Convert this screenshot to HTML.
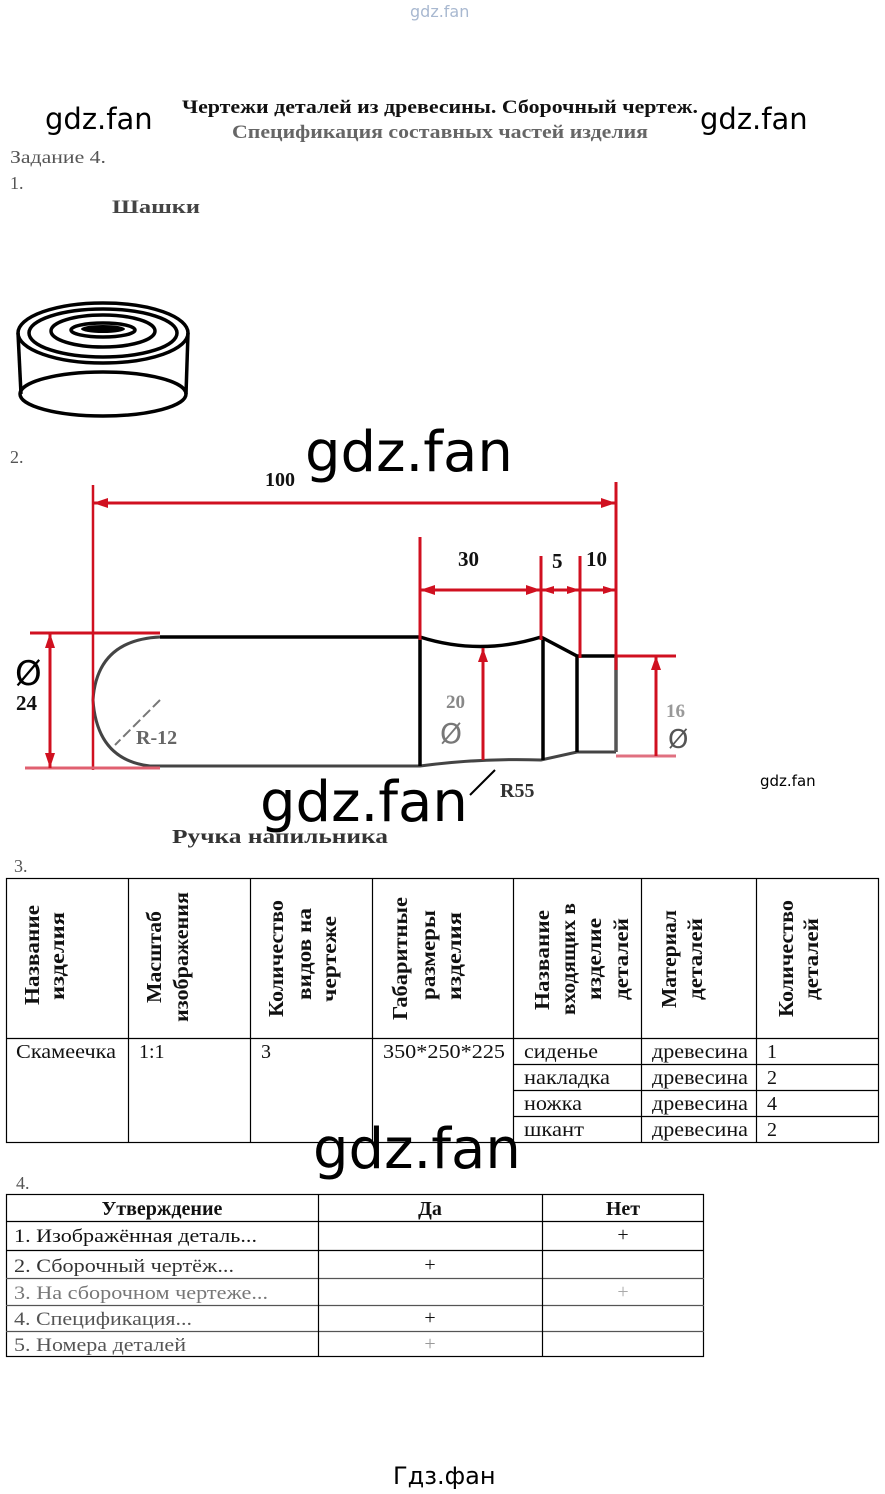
<!DOCTYPE html>
<html><head><meta charset="utf-8"><style>
html,body{margin:0;padding:0;background:#fff;width:885px;height:1494px;overflow:hidden}
svg{display:block}
.s{font-family:"Liberation Serif","DejaVu Serif",serif;fill:#111}
.b{font-weight:bold}
.w{font-family:"DejaVu Sans","Liberation Sans",sans-serif;fill:#000}
</style></head><body>
<svg width="885" height="1494" viewBox="0 0 885 1494" xmlns="http://www.w3.org/2000/svg">
<text x="410" y="17" class="w" font-size="16" style="fill:#a8b8d0">gdz.fan</text>
<text x="182" y="113" class="s b" font-size="19" textLength="516" lengthAdjust="spacingAndGlyphs">Чертежи деталей из древесины. Сборочный чертеж.</text>
<text x="232" y="138" class="s b" font-size="19" textLength="416" lengthAdjust="spacingAndGlyphs" style="fill:#666">Спецификация составных частей изделия</text>
<text x="45" y="129" class="w" font-size="29">gdz.fan</text>
<text x="700" y="129" class="w" font-size="29">gdz.fan</text>
<text x="10" y="163" class="s" font-size="18" textLength="96" lengthAdjust="spacingAndGlyphs" style="fill:#555">Задание 4.</text>
<text x="10" y="189" class="s" font-size="18" style="fill:#555">1.</text>
<text x="112" y="213" class="s b" font-size="19" textLength="88" lengthAdjust="spacingAndGlyphs" style="fill:#444">Шашки</text>

<g fill="none" stroke="#000" stroke-width="3.5">
<ellipse cx="103" cy="333" rx="85" ry="30"/>
<ellipse cx="103" cy="333" rx="74" ry="24"/>
<ellipse cx="103" cy="331" rx="52" ry="16"/>
<ellipse cx="103" cy="330" rx="32" ry="7"/>
<ellipse cx="103" cy="394" rx="83" ry="22"/>
<line x1="18" y1="333" x2="21" y2="394"/>
<line x1="188" y1="333" x2="186" y2="394"/>
</g>
<ellipse cx="103" cy="329" rx="22" ry="4" fill="#000"/>

<text x="10" y="463" class="s" font-size="18" style="fill:#555">2.</text>
<text x="305" y="471" class="w" font-size="56">gdz.fan</text>

<g fill="none" stroke="#000" stroke-width="3.5">
<path d="M160 637 L420 637 Q480 656 541 637 L577 656 L616 656"/>
<path d="M160 637 Q97 640 93 700 Q97 760 150 766 L420 766 Q480 758 541 760 L577 752 L616 752" stroke="#444" stroke-width="3"/>
<line x1="420" y1="637" x2="420" y2="766"/>
<line x1="543" y1="640" x2="543" y2="760"/>
<line x1="577" y1="656" x2="577" y2="752"/>
<line x1="616" y1="656" x2="616" y2="752" stroke="#555"/>
</g>
<g stroke="#d01020" stroke-width="3" fill="#d01020">
<line x1="93" y1="485" x2="93" y2="770" stroke-width="2.5"/>
<line x1="616" y1="482" x2="616" y2="670"/>
<line x1="93" y1="503" x2="616" y2="503"/>
<polygon points="93,503 108,498 108,508" stroke="none"/>
<polygon points="616,503 601,498 601,508" stroke="none"/>
<line x1="420" y1="537" x2="420" y2="640"/>
<line x1="541" y1="556" x2="541" y2="640"/>
<line x1="580" y1="556" x2="580" y2="658"/>
<line x1="420" y1="590" x2="616" y2="590"/>
<polygon points="420,590 435,585 435,595" stroke="none"/>
<polygon points="541,590 526,585 526,595" stroke="none"/>
<polygon points="541,590 554,586 554,594" stroke="none"/>
<polygon points="580,590 567,586 567,594" stroke="none"/>
<polygon points="616,590 603,586 603,594" stroke="none"/>
<line x1="30" y1="633" x2="160" y2="633"/>
<line x1="25" y1="768" x2="160" y2="768" stroke="#e06070"/>
<line x1="50" y1="633" x2="50" y2="768"/>
<polygon points="50,633 45,648 55,648" stroke="none"/>
<polygon points="50,768 45,753 55,753" stroke="none"/>
<line x1="616" y1="656" x2="676" y2="656"/>
<line x1="616" y1="756" x2="676" y2="756" stroke="#e07080"/>
<line x1="656" y1="656" x2="656" y2="756"/>
<polygon points="656,656 651,670 661,670" stroke="none"/>
<line x1="483" y1="648" x2="483" y2="760"/>
<polygon points="483,648 478,662 488,662" stroke="none"/>
</g>
<text x="265" y="486" class="s b" font-size="20">100</text>
<text x="458" y="566" class="s b" font-size="21">30</text>
<text x="552" y="568" class="s b" font-size="21">5</text>
<text x="586" y="566" class="s b" font-size="21">10</text>
<text x="15" y="685" class="w" font-size="34">Ø</text>
<text x="16" y="710" class="s b" font-size="21">24</text>
<text x="136" y="744" class="s b" font-size="20" style="fill:#666">R-12</text>
<line x1="160" y1="700" x2="115" y2="745" stroke="#777" stroke-width="2" stroke-dasharray="10,4"/>
<text x="446" y="708" class="s b" font-size="19" style="fill:#888">20</text>
<text x="440" y="743" class="w" font-size="28" style="fill:#777">Ø</text>
<text x="666" y="717" class="s b" font-size="19" style="fill:#999">16</text>
<text x="668" y="748" class="w" font-size="26" style="fill:#555">Ø</text>
<text x="500" y="797" class="s b" font-size="20" style="fill:#333">R55</text>
<line x1="495" y1="770" x2="470" y2="795" stroke="#000" stroke-width="2"/>
<text x="260" y="821" class="w" font-size="56">gdz.fan</text>
<text x="760" y="786" class="w" font-size="15">gdz.fan</text>
<text x="172" y="843" class="s b" font-size="20" textLength="216" lengthAdjust="spacingAndGlyphs" style="fill:#333">Ручка напильника</text>

<text x="14" y="872" class="s" font-size="18" style="fill:#555">3.</text>
<g stroke="#000" stroke-width="1.2">
<rect x="6.5" y="878.5" width="872" height="264" fill="none"/>
<line x1="6" y1="1038.5" x2="879" y2="1038.5"/>
<line x1="128.5" y1="878" x2="128.5" y2="1143"/>
<line x1="250.5" y1="878" x2="250.5" y2="1143"/>
<line x1="372.5" y1="878" x2="372.5" y2="1143"/>
<line x1="513.5" y1="878" x2="513.5" y2="1143"/>
<line x1="641.5" y1="878" x2="641.5" y2="1143"/>
<line x1="756.5" y1="878" x2="756.5" y2="1143"/>
<line x1="513" y1="1064.5" x2="879" y2="1064.5"/>
<line x1="513" y1="1090.5" x2="879" y2="1090.5"/>
<line x1="513" y1="1116.5" x2="879" y2="1116.5"/>
</g>
<g class="s b" font-size="21" lengthAdjust="spacingAndGlyphs">
<text transform="translate(39,1005) rotate(-90)" textLength="100" lengthAdjust="spacingAndGlyphs">Название</text>
<text transform="translate(64,1000) rotate(-90)" textLength="88" lengthAdjust="spacingAndGlyphs">изделия</text>
<text transform="translate(161,1003) rotate(-90)" textLength="92" lengthAdjust="spacingAndGlyphs">Масштаб</text>
<text transform="translate(188,1022) rotate(-90)" textLength="130" lengthAdjust="spacingAndGlyphs">изображения</text>
<text transform="translate(283,1017) rotate(-90)" textLength="117" lengthAdjust="spacingAndGlyphs">Количество</text>
<text transform="translate(311,1000) rotate(-90)" textLength="92" lengthAdjust="spacingAndGlyphs">видов на</text>
<text transform="translate(336,1002) rotate(-90)" textLength="86" lengthAdjust="spacingAndGlyphs">чертеже</text>
<text transform="translate(407,1020) rotate(-90)" textLength="123" lengthAdjust="spacingAndGlyphs">Габаритные</text>
<text transform="translate(435,1000) rotate(-90)" textLength="90" lengthAdjust="spacingAndGlyphs">размеры</text>
<text transform="translate(461,1000) rotate(-90)" textLength="88" lengthAdjust="spacingAndGlyphs">изделия</text>
<text transform="translate(549,1010) rotate(-90)" textLength="100" lengthAdjust="spacingAndGlyphs">Название</text>
<text transform="translate(575,1015) rotate(-90)" textLength="112" lengthAdjust="spacingAndGlyphs">входящих в</text>
<text transform="translate(601,1000) rotate(-90)" textLength="82" lengthAdjust="spacingAndGlyphs">изделие</text>
<text transform="translate(628,1000) rotate(-90)" textLength="82" lengthAdjust="spacingAndGlyphs">деталей</text>
<text transform="translate(676,1008) rotate(-90)" textLength="98" lengthAdjust="spacingAndGlyphs">Материал</text>
<text transform="translate(702,1000) rotate(-90)" textLength="82" lengthAdjust="spacingAndGlyphs">деталей</text>
<text transform="translate(793,1017) rotate(-90)" textLength="117" lengthAdjust="spacingAndGlyphs">Количество</text>
<text transform="translate(818,1000) rotate(-90)" textLength="82" lengthAdjust="spacingAndGlyphs">деталей</text>
</g>
<g class="s" font-size="20">
<text x="16" y="1058" textLength="100" lengthAdjust="spacingAndGlyphs">Скамеечка</text>
<text x="139" y="1058">1:1</text>
<text x="261" y="1058">3</text>
<text x="383" y="1058" textLength="122" lengthAdjust="spacingAndGlyphs">350*250*225</text>
<text x="524" y="1058" textLength="74" lengthAdjust="spacingAndGlyphs">сиденье</text>
<text x="524" y="1084" textLength="86" lengthAdjust="spacingAndGlyphs">накладка</text>
<text x="524" y="1110" textLength="58" lengthAdjust="spacingAndGlyphs">ножка</text>
<text x="524" y="1136" textLength="60" lengthAdjust="spacingAndGlyphs">шкант</text>
<text x="652" y="1058" textLength="96" lengthAdjust="spacingAndGlyphs">древесина</text>
<text x="652" y="1084" textLength="96" lengthAdjust="spacingAndGlyphs">древесина</text>
<text x="652" y="1110" textLength="96" lengthAdjust="spacingAndGlyphs">древесина</text>
<text x="652" y="1136" textLength="96" lengthAdjust="spacingAndGlyphs">древесина</text>
<text x="767" y="1058">1</text>
<text x="767" y="1084">2</text>
<text x="767" y="1110">4</text>
<text x="767" y="1136">2</text>
</g>
<text x="313" y="1168" class="w" font-size="56">gdz.fan</text>

<text x="16" y="1189" class="s" font-size="18" style="fill:#555">4.</text>
<g stroke="#000" stroke-width="1.2">
<rect x="6.5" y="1194.5" width="697" height="162" fill="none"/>
<line x1="6" y1="1221.5" x2="704" y2="1221.5"/>
<line x1="6" y1="1250.5" x2="704" y2="1250.5"/>
<line x1="6" y1="1278.5" x2="704" y2="1278.5" stroke="#555"/>
<line x1="6" y1="1305.5" x2="704" y2="1305.5" stroke="#555"/>
<line x1="6" y1="1331.5" x2="704" y2="1331.5" stroke="#555"/>
<line x1="318.5" y1="1194" x2="318.5" y2="1357"/>
<line x1="542.5" y1="1194" x2="542.5" y2="1357"/>
</g>
<g class="s b" font-size="20" text-anchor="middle">
<text x="162" y="1215">Утверждение</text>
<text x="430" y="1215">Да</text>
<text x="623" y="1215">Нет</text>
</g>
<g class="s" font-size="19">
<text x="14" y="1242" textLength="243" lengthAdjust="spacingAndGlyphs">1. Изображённая деталь...</text>
<text x="14" y="1272" textLength="220" lengthAdjust="spacingAndGlyphs" style="fill:#333">2. Сборочный чертёж...</text>
<text x="14" y="1299" textLength="254" lengthAdjust="spacingAndGlyphs" style="fill:#777">3. На сборочном чертеже...</text>
<text x="14" y="1325" textLength="178" lengthAdjust="spacingAndGlyphs" style="fill:#555">4. Спецификация...</text>
<text x="14" y="1351" textLength="172" lengthAdjust="spacingAndGlyphs" style="fill:#555">5. Номера деталей</text>
</g>
<g class="s" font-size="20" text-anchor="middle">
<text x="623" y="1241">+</text>
<text x="430" y="1271">+</text>
<text x="623" y="1298" style="fill:#aaa">+</text>
<text x="430" y="1324">+</text>
<text x="430" y="1350" style="fill:#999">+</text>
</g>
<text x="393" y="1484" class="w" font-size="24">Гдз.фан</text>
</svg>
</body></html>
